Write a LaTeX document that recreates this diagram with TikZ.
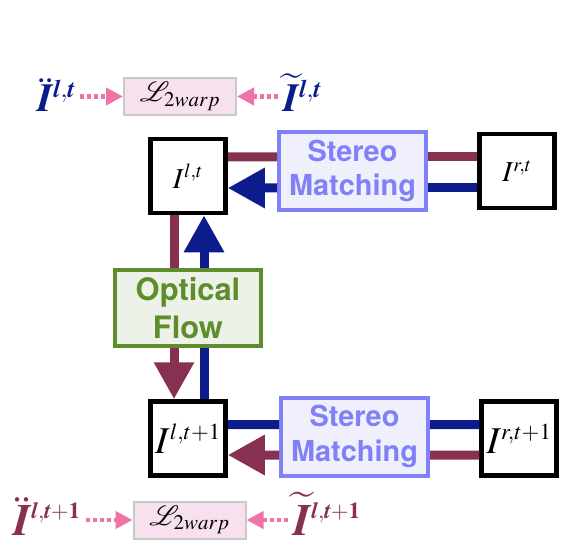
\documentclass[tikz,border=0pt]{standalone}
\usepackage{amsmath}
\usepackage{mathptmx}
\usepackage[no-math]{fontspec}
\newfontfamily\heros{TeX Gyre Heros}
\DeclareMathAlphabet{\mathbi}{OT1}{ptm}{b}{it}
\DeclareMathSizes{29}{29}{20}{14}
\DeclareMathSizes{38}{38}{23}{16}
\DeclareMathSizes{40}{40}{25}{18}
\DeclareMathSizes{45}{45}{23}{16}
\DeclareMathSizes{28}{28}{21}{15}
\usetikzlibrary{arrows.meta}
\usetikzlibrary{positioning}
\definecolor{flowblue}{RGB}{12,28,140}
\definecolor{flowred}{RGB}{136,48,82}
\definecolor{warppink}{RGB}{240,115,168}
\definecolor{lossfill}{RGB}{248,225,238}
\definecolor{lossdraw}{RGB}{200,200,200}
\definecolor{smfill}{RGB}{240,240,252}
\definecolor{smdraw}{RGB}{128,128,248}
\definecolor{offill}{RGB}{236,242,232}
\definecolor{ofdraw}{RGB}{95,140,45}
\tikzset{>={Triangle[length=37bp,width=38bp]}}
\tikzset{
  imgbox/.style={draw,line width=4.5bp,fill=white,minimum width=75bp,minimum height=74bp,inner sep=0pt,font=\fontsize{29}{32}\selectfont},
  bigimgbox/.style={imgbox,font=\fontsize{38}{42}\selectfont},
  smbox/.style={draw=smdraw,fill=smfill,text=smdraw,line width=4bp,minimum width=147bp,minimum height=78bp,align=center,inner sep=0pt,font=\heros\bfseries\fontsize{29}{35}\selectfont},
  ofbox/.style={draw=ofdraw,fill=offill,text=ofdraw,line width=4bp,minimum width=146bp,minimum height=76bp,align=center,inner sep=0pt,font=\heros\bfseries\fontsize{31}{38}\selectfont},
  lossbox/.style={draw=lossdraw,fill=lossfill,line width=2bp,minimum width=112bp,minimum height=37bp,inner sep=0pt,font=\fontsize{28}{30}\selectfont},
  warplabel/.style={inner sep=0pt,anchor=base west,font=\fontsize{40}{44}\selectfont},
  bigwarplabel/.style={warplabel,font=\fontsize{45}{50}\selectfont},
  redline/.style={draw=flowred,line width=9bp,fill=flowred},
  blueline/.style={draw=flowblue,line width=9bp,fill=flowblue},
  dotarrow/.style={draw=warppink,line width=4.5bp,dash pattern=on 4bp off 3bp,-{Triangle[length=17bp,width=17bp]},shorten <=5bp}
}
\begin{document}
\begin{tikzpicture}[x=1bp,y=-1bp]
    \useasboundingbox (0,0) rectangle (567,555);
    % frames
    \node[imgbox] (ilt) at (188,176) {$I^{l,t}$};
    \node[imgbox] (irt) at (517,171) {$I^{r,t}$};
    \node[bigimgbox] (ilt1) at (188,438.5) {$I^{l,t+1}$};
    \node[bigimgbox] (irt1) at (519,438.5) {$I^{r,t+1}$};
    \node[smbox] (smt) at (352.5,171) {Stereo\\Matching};
    \node[smbox] (smb) at (354.5,436.5) {Stereo\\Matching};
    \node[ofbox] (of) at (188,308) {Optical\\Flow};
    % stereo links
    \draw[redline] ([yshift=19bp]ilt.east) -- ([yshift=14bp]smt.west);
    \draw[redline] ([yshift=14bp]smt.east) -- ([yshift=14bp]irt.west);
    \draw[blueline,->] ([yshift=-17bp]smt.west) -- ([yshift=-12bp]ilt.east);
    \draw[blueline] ([yshift=-17bp]irt.west) -- ([yshift=-17bp]smt.east);
    \draw[blueline] ([yshift=14bp]ilt1.east) -- ([yshift=12bp]smb.west);
    \draw[blueline] ([yshift=12bp]smb.east) -- ([yshift=14bp]irt1.west);
    \draw[redline,->] ([yshift=-18.5bp]smb.west) -- ([yshift=-16.5bp]ilt1.east);
    \draw[redline] ([yshift=-16.5bp]irt1.west) -- ([yshift=-18.5bp]smb.east);
    % flow links
    \draw[redline] ([xshift=-14bp]ilt.south) -- ([xshift=-14bp]of.north);
    \draw[redline,->] ([xshift=-14bp]of.south) -- ([xshift=-14bp]ilt1.north);
    \draw[blueline] ([xshift=16bp]ilt1.north) -- ([xshift=16bp]of.south);
    \draw[blueline,->] ([xshift=16bp]of.north) -- ([xshift=16bp]ilt.south);
    % warping losses
    \node[lossbox] (lt) at (180,96.5) {$\mathcal{L}_{2warp}$};
    \node[warplabel,text=flowblue] (ddt) at (37,112) {$\ddot{\mathbi{I}}^{\mathbi{l},\mathbi{t}}$};
    \node[warplabel,text=flowblue] (tlt) at (283,112) {$\widetilde{\mathbi{I}}^{\mathbi{l},\mathbi{t}}$};
    \draw[dotarrow] (lt.west -| ddt.east) -- (lt.west);
    \draw[dotarrow] (lt.east -| tlt.west) -- (lt.east);
    \node[lossbox] (lb) at (189.5,520) {$\mathcal{L}_{2warp}$};
    \node[bigwarplabel,text=flowred] (ddb) at (13,535) {$\ddot{\mathbi{I}}^{\mathbi{l},\mathbi{t}+\mathbf{1}}$};
    \node[bigwarplabel,text=flowred] (tlb) at (293,535) {$\widetilde{\mathbi{I}}^{\mathbi{l},\mathbi{t}+\mathbf{1}}$};
    \draw[dotarrow] (lb.west -| ddb.east) -- (lb.west);
    \draw[dotarrow] (lb.east -| tlb.west) -- (lb.east);
\end{tikzpicture}
\end{document}
